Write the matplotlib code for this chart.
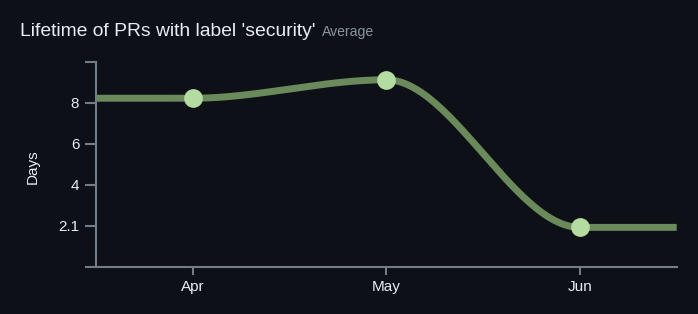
import numpy as np
import matplotlib.pyplot as plt

# data
months = ['Apr', 'May', 'Jun']
avg_days = [8.22, 9.12, 1.93]
ytick_pos = [0, 2, 4, 6, 8, 10]
ytick_labels = ['', '2.1', '4', '6', '8', '']

bg = '#0d1117'
line_col = '#6a8a5b'
dot_col = '#b4dba0'
axis_col = '#737d89'
text_col = '#e6edf3'
sub_col = '#8b949e'

plt.rcParams['font.family'] = ['Liberation Sans', 'DejaVu Sans']

fig = plt.figure(figsize=(6.98, 3.14), dpi=100, facecolor=bg)
ax = fig.add_axes([96 / 698, 1 - 267 / 314, (676.7 - 96) / 698, (267 - 61.7) / 314])
ax.set_facecolor(bg)

x = np.arange(len(months))
x_lo, x_hi = -0.5, len(months) - 0.5

# smooth curve with flat tangents at each point (bump-style), extended flat to the edges
kx = np.concatenate([[x_lo], x, [x_hi]])
ky = np.concatenate([[avg_days[0]], avg_days, [avg_days[-1]]])
cx, cy = [], []
for i in range(len(kx) - 1):
    t = np.linspace(0, 1, 60)
    s = 3 * t ** 2 - 2 * t ** 3
    cx.append(kx[i] + (kx[i + 1] - kx[i]) * t)
    cy.append(ky[i] + (ky[i + 1] - ky[i]) * s)
cx = np.concatenate(cx)
cy = np.concatenate(cy)

ax.plot(cx, cy, color=line_col, lw=5.0, solid_capstyle='butt', zorder=2, clip_on=False)
ax.plot(x, avg_days, 'o', color=dot_col, ms=13.5, mec='none', zorder=3, clip_on=False)

ax.set_xlim(x_lo, x_hi)
ax.set_ylim(0, 10)
ax.set_xticks(x)
ax.set_xticklabels(months)
ax.set_yticks(ytick_pos)
ax.set_yticklabels(ytick_labels)

for side in ['top', 'right']:
    ax.spines[side].set_visible(False)
for side in ['left', 'bottom']:
    ax.spines[side].set_color(axis_col)
    ax.spines[side].set_linewidth(1.5)

ax.tick_params(axis='y', colors=axis_col, length=8, width=1.5, pad=4,
               labelcolor=text_col, labelsize=11)
ax.tick_params(axis='x', colors=axis_col, length=5.5, width=1.5, pad=4,
               labelcolor=text_col, labelsize=11)

fig.text(33 / 698, 1 - 166.5 / 314, 'Days', rotation=90, ha='center', va='center',
         color=text_col, fontsize=11)

title = fig.text(20.5 / 698, 1 - 36 / 314, "Lifetime of PRs with label 'security'",
                 ha='left', va='baseline', color=text_col, fontsize=13.9)
fig.canvas.draw()
bb = title.get_window_extent()
fig.text((bb.x1 + 5.5) / 698, 1 - 36 / 314, 'Average', ha='left', va='baseline',
         color=sub_col, fontsize=10.1)

fig.savefig('out.png', dpi=100, facecolor=bg)
